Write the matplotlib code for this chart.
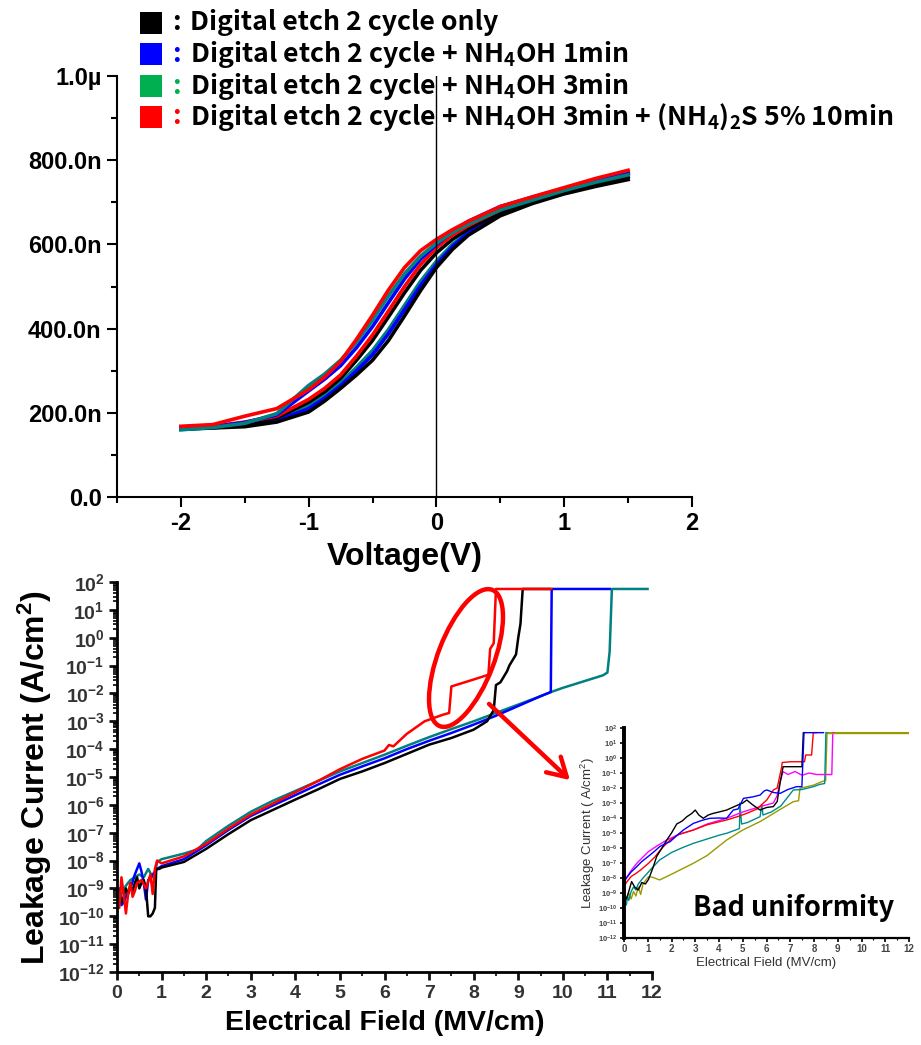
import numpy as np
import matplotlib
matplotlib.use("Agg")
import matplotlib.pyplot as plt
from matplotlib.patches import Rectangle, Ellipse, FancyArrowPatch
from matplotlib.ticker import MultipleLocator, LogLocator, NullFormatter, FuncFormatter

plt.rcParams["font.family"] = ["Liberation Sans", "DejaVu Sans"]
plt.rcParams["mathtext.fontset"] = "custom"
plt.rcParams["mathtext.rm"] = "Liberation Sans"
plt.rcParams["mathtext.bf"] = "Liberation Sans:bold"
plt.rcParams["axes.unicode_minus"] = False

LEG_FONT = ["Noto Sans CJK KR", "DejaVu Sans"]

# ---------------- top panel: C-V (two sweep branches per sample) ----------------
cv_v = [-2, -1.75, -1.5, -1.25, -1.0, -0.875, -0.75, -0.625, -0.5, -0.375,
        -0.25, -0.125, 0, 0.125, 0.25, 0.5, 0.75, 1.0, 1.25, 1.5]
# capacitance in nF
cv_black_a = [163, 166, 172, 188, 225, 250, 282, 325, 372, 428, 485, 538, 580, 612, 637, 675, 700, 722, 742, 760]
cv_black_b = [162, 164, 167, 178, 202, 228, 258, 290, 325, 372, 430, 490, 545, 588, 622, 668, 697, 720, 738, 754]
cv_blue_a = [163, 167, 177, 195, 252, 280, 312, 355, 405, 462, 518, 565, 600, 630, 655, 690, 712, 733, 752, 770]
cv_blue_b = [162, 165, 170, 182, 210, 235, 265, 300, 338, 388, 445, 502, 552, 595, 628, 675, 703, 728, 750, 768]
cv_teal_a = [160, 165, 175, 198, 265, 292, 325, 368, 420, 478, 530, 572, 603, 628, 648, 682, 705, 728, 748, 765]
cv_teal_b = [160, 164, 172, 188, 218, 242, 272, 308, 348, 398, 455, 512, 560, 600, 630, 672, 700, 724, 744, 762]
cv_red_a = [168, 172, 192, 210, 255, 285, 322, 375, 432, 492, 545, 585, 612, 635, 655, 690, 713, 735, 757, 776]
cv_red_b = [165, 168, 178, 192, 232, 258, 290, 335, 385, 442, 500, 552, 592, 622, 645, 682, 708, 730, 752, 772]

legend_labels = [
    "Digital etch 2 cycle only",
    r"Digital etch 2 cycle + $\mathregular{NH_4}$OH 1min",
    r"Digital etch 2 cycle + $\mathregular{NH_4}$OH 3min",
    r"Digital etch 2 cycle + $\mathregular{NH_4}$OH 3min + $\mathregular{(NH_4)_2S}$ 5% 10min",
]
legend_colors = ["#000000", "#0000ff", "#00b050", "#ff0000"]

# ---------------- bottom panel: J-E (log10 of A/cm2) ----------------
je_black_e = [0, 0.05, 0.1, 0.15, 0.2, 0.25, 0.3, 0.35, 0.4, 0.45, 0.5, 0.55, 0.6, 0.65, 0.7, 0.75,
              0.8, 0.85, 0.88, 0.95, 1.0, 1.5, 2.0, 2.5, 3.0, 3.5, 4.0, 4.5, 5.0, 5.5, 6.0, 6.5,
              7.0, 7.5, 8.0, 8.3, 8.45, 8.5, 8.6, 8.75, 8.8, 8.95, 9.0, 9.05, 9.1, 9.7]
je_black_j = [-9.3, -9.2, -9.5, -9.3, -9.0, -9.2, -8.9, -9.1, -8.8, -8.6, -9.0, -8.8, -8.7, -9.0, -10.0, -10.0,
              -9.9, -9.7, -8.3, -8.3, -8.25, -8.05, -7.58, -7.05, -6.55, -6.18, -5.81, -5.45, -5.07, -4.8, -4.5, -4.17,
              -3.84, -3.6, -3.3, -3.0, -2.6, -1.7, -1.6, -1.2, -1.0, -0.6, 0.0, 0.5, 1.75, 1.75]

je_blue_e = [0, 0.05, 0.1, 0.15, 0.2, 0.3, 0.4, 0.45, 0.5, 0.55, 0.6, 0.65, 0.7, 0.8, 0.9, 1.0,
             1.5, 2.0, 2.5, 3.0, 3.5, 4.0, 4.5, 5.0, 5.5, 6.0, 6.5, 7.0, 7.5, 8.0, 8.5, 9.0,
             9.5, 9.73, 9.75, 11.05]
je_blue_j = [-9.3, -9.0, -9.6, -9.5, -9.3, -9.0, -8.5, -8.3, -8.1, -8.4, -8.8, -9.4, -8.7, -8.5, -8.3, -8.2,
             -7.95, -7.45, -6.9, -6.4, -6.02, -5.65, -5.28, -4.92, -4.62, -4.33, -4.0, -3.7, -3.42, -3.12, -2.8, -2.45,
             -2.1, -1.95, 1.75, 1.75]

je_teal_e = [0, 0.05, 0.1, 0.2, 0.3, 0.4, 0.5, 0.6, 0.7, 0.8, 0.85, 0.9, 1.0, 1.5, 1.8, 2.0,
             2.5, 3.0, 3.5, 4.0, 4.5, 5.0, 5.5, 6.0, 6.5, 7.0, 7.5, 8.0, 8.5, 9.0, 9.5, 9.7,
             10.0, 10.5, 10.9, 11.0, 11.05, 11.1, 11.9]
je_teal_j = [-9.3, -9.4, -9.2, -8.9, -8.7, -8.6, -8.5, -8.6, -8.3, -8.6, -8.5, -8.05, -7.95, -7.75, -7.6, -7.3,
             -6.75, -6.25, -5.85, -5.5, -5.15, -4.8, -4.5, -4.2, -3.88, -3.57, -3.28, -3.0, -2.7, -2.4, -2.1, -1.97,
             -1.8, -1.55, -1.35, -1.25, -0.5, 1.75, 1.75]

je_red_e = [0, 0.05, 0.1, 0.15, 0.2, 0.25, 0.3, 0.35, 0.4, 0.45, 0.55, 0.65, 0.75, 0.8, 0.85, 0.9,
            1.0, 1.5, 2.0, 2.5, 3.0, 3.5, 4.0, 4.5, 5.0, 5.5, 6.0, 6.1, 6.2, 6.5, 6.9, 7.3,
            7.45, 7.5, 8.0, 8.33, 8.37, 8.45, 8.5, 9.74]
je_red_j = [-9.5, -9.7, -8.6, -9.2, -9.9, -9.2, -8.8, -9.3, -9.1, -8.8, -8.7, -9.0, -8.5, -9.2, -8.3, -8.0,
            -8.1, -7.85, -7.4, -6.85, -6.35, -5.95, -5.55, -5.15, -4.72, -4.35, -4.05, -3.85, -3.9, -3.45, -3.0, -2.77,
            -2.7, -1.75, -1.5, -1.33, -0.4, -0.2, 1.75, 1.75]

# ---------------- inset: six devices, same process ----------------
in_black_e = [0, 0.1, 0.2, 0.32, 0.45, 0.6, 0.75, 0.9, 1.03, 1.2, 1.38, 1.6, 1.8, 2.0, 2.22, 2.45,
              2.65, 2.85, 3.0, 3.15, 3.34, 3.55, 3.76, 4.0, 4.32, 4.7, 5.0, 5.17, 5.4, 5.73, 6.0, 6.29,
              6.45, 6.57, 6.7, 7.49, 7.55, 7.6]
in_black_j = [-9.0, -9.4, -8.9, -8.24, -8.6, -8.8, -8.3, -8.4, -8.1, -7.4, -6.55, -6.0, -5.47, -5.0, -4.4, -4.2,
              -3.91, -3.7, -3.47, -3.8, -4.02, -3.8, -3.69, -3.6, -3.47, -3.2, -3.0, -2.8, -3.1, -3.47, -3.3, -3.24,
              -2.9, -1.69, -0.58, -0.58, 1.69, 1.69]
in_blue_e = [0, 0.1, 0.3, 0.5, 0.75, 1.03, 1.3, 1.5, 1.75, 1.94, 2.2, 2.5, 2.92, 3.3, 3.62, 4.0,
             4.32, 4.6, 4.8, 5.03, 5.4, 5.73, 5.9, 6.01, 6.3, 6.57, 6.9, 7.27, 7.49, 7.58, 8.4]
in_blue_j = [-8.2, -8.0, -7.6, -7.3, -6.9, -6.55, -6.2, -5.91, -5.7, -5.58, -5.2, -4.8, -4.36, -4.15, -4.02, -4.0,
             -4.02, -3.47, -3.4, -2.69, -2.6, -2.47, -2.2, -2.13, -2.3, -2.36, -2.1, -1.91, -1.91, 1.69, 1.69]
in_red_e = [0, 0.1, 0.3, 0.5, 0.75, 1.03, 1.3, 1.6, 1.94, 2.3, 2.92, 3.5, 4.32, 4.8, 5.17, 5.6,
            6.01, 6.29, 6.45, 6.64, 6.66, 7.0, 7.6, 7.65, 7.9, 7.97, 8.1]
in_red_j = [-8.6, -8.3, -7.9, -7.7, -7.4, -7.02, -6.6, -6.0, -5.47, -5.1, -4.8, -4.45, -4.13, -3.9, -3.69, -3.4,
            -2.8, -2.13, -2.0, -0.58, -0.3, -0.25, -0.25, 0.2, 0.2, 1.69, 1.69]
in_mag_e = [0, 0.1, 0.3, 0.54, 0.8, 1.03, 1.4, 1.8, 2.3, 2.92, 3.5, 4.32, 5.0, 5.73, 6.29, 6.45,
            6.57, 6.7, 6.9, 7.2, 7.5, 7.8, 8.1, 8.4, 8.75, 8.79, 8.85]
in_mag_j = [-8.35, -8.0, -7.5, -7.02, -6.6, -6.24, -5.85, -5.47, -5.1, -4.8, -4.4, -4.02, -3.6, -3.24, -3.0, -2.5,
            -1.58, -0.91, -1.1, -0.9, -1.15, -1.0, -1.1, -1.1, -1.1, 1.69, 1.69]
in_teal_e = [0, 0.05, 0.1, 0.15, 0.2, 0.3, 0.4, 0.5, 0.6, 0.7, 0.8, 0.98, 1.2, 1.5, 2.0, 2.5,
             2.92, 3.5, 4.0, 4.32, 4.7, 4.86, 4.88, 4.95, 5.2, 5.73, 5.8, 5.85, 6.2, 6.6, 7.13, 7.5,
             8.0, 8.24, 8.45, 8.5, 8.55]
in_teal_j = [-9.0, -9.6, -9.8, -9.2, -9.5, -8.9, -8.6, -8.8, -8.4, -8.2, -8.0, -7.69, -7.3, -6.8, -6.3, -5.95,
             -5.69, -5.4, -5.15, -5.02, -4.8, -4.7, -3.0, -4.4, -4.3, -3.91, -3.1, -3.8, -3.6, -3.2, -2.13, -2.1,
             -1.9, -1.76, -1.7, 1.69, 1.69]
in_olive_e = [0, 0.05, 0.1, 0.2, 0.3, 0.4, 0.5, 0.6, 0.7, 0.8, 1.03, 1.2, 1.5, 2.0, 2.5, 2.92,
              3.5, 4.32, 5.0, 5.73, 6.5, 7.13, 7.35, 7.41, 8.0, 8.32, 8.49, 8.55, 11.97]
in_olive_j = [-9.0, -9.8, -9.5, -9.0, -9.4, -8.9, -9.2, -8.6, -9.1, -8.4, -7.91, -7.95, -8.13, -7.75, -7.35, -7.02,
              -6.5, -5.47, -4.8, -4.24, -3.5, -2.91, -2.85, -2.02, -1.8, -1.58, -1.5, 1.69, 1.69]

W, H = 921, 1045
fig = plt.figure(figsize=(W / 100, H / 100), dpi=100)


def fig_box(left, top, right, bottom):
    return [left / W, 1 - bottom / H, (right - left) / W, (bottom - top) / H]


# ---------------- top panel ----------------
ax1 = fig.add_axes(fig_box(117, 76, 692, 497))
for ys, c in [(cv_teal_b, "#008080"), (cv_blue_b, "#0000ff"), (cv_black_b, "#000000"),
              (cv_black_a, "#000000"), (cv_red_b, "#ff0000"), (cv_blue_a, "#0000ff"),
              (cv_teal_a, "#008080"), (cv_red_a, "#ff0000")]:
    ax1.plot(cv_v, np.array(ys) * 1e-9, color=c, lw=2.6, solid_joinstyle="round")
ax1.axvline(0, color="black", lw=1.0)
ax1.set_xlim(-2.5, 2)
ax1.set_ylim(0, 1.0e-6)
ax1.xaxis.set_major_locator(MultipleLocator(1))
ax1.xaxis.set_minor_locator(MultipleLocator(0.5))
ax1.yaxis.set_major_locator(MultipleLocator(200e-9))
ax1.yaxis.set_minor_locator(MultipleLocator(100e-9))


def cap_fmt(v, pos):
    if abs(v) < 1e-12:
        return "0.0"
    if v >= 0.999e-6:
        return "%.1f\u00b5" % (v * 1e6)
    return "%.1fn" % (v * 1e9)


ax1.yaxis.set_major_formatter(FuncFormatter(cap_fmt))
for s in ["top", "right"]:
    ax1.spines[s].set_visible(False)
for s in ["left", "bottom"]:
    ax1.spines[s].set_linewidth(1.5)
ax1.tick_params(which="major", direction="out", length=7, width=1.5, labelsize=17, pad=4)
ax1.tick_params(which="minor", direction="out", length=4, width=1.5)
for lab in ax1.get_xticklabels() + ax1.get_yticklabels():
    lab.set_fontweight("bold")
ax1.set_xlabel("Voltage(V)", fontsize=23, fontweight="bold", labelpad=5)

# legend drawn as figure text
rows_y = [23, 54, 86, 117]
for y, lab, c in zip(rows_y, legend_labels, legend_colors):
    fig.patches.append(Rectangle((140 / W, 1 - (y + 11) / H), 22 / W, 22 / H,
                                 transform=fig.transFigure, facecolor=c, edgecolor="none"))
    fig.text(172 / W, 1 - y / H, ":", color=c, fontsize=19, fontweight="bold",
             family=LEG_FONT, va="center", ha="left")
    fig.text(190 / W, 1 - y / H, lab, color="black", fontsize=19.2, fontweight="bold",
             family=LEG_FONT, va="center", ha="left")

# ---------------- bottom panel ----------------
ax2 = fig.add_axes(fig_box(117, 582, 652, 972))
for es, js, c in [(je_teal_e, je_teal_j, "#008080"), (je_blue_e, je_blue_j, "#0000ff"),
                  (je_black_e, je_black_j, "#000000"), (je_red_e, je_red_j, "#ff0000")]:
    ax2.plot(es, 10.0 ** np.array(js), color=c, lw=1.8)
ax2.set_yscale("log")
ax2.set_xlim(0, 12)
ax2.set_ylim(1e-12, 1e2)
ax2.xaxis.set_major_locator(MultipleLocator(1))
ax2.xaxis.set_minor_locator(MultipleLocator(0.5))
ax2.yaxis.set_major_locator(LogLocator(base=10, numticks=20))
ax2.yaxis.set_minor_locator(LogLocator(base=10, subs=np.arange(2, 10), numticks=20))
ax2.yaxis.set_minor_formatter(NullFormatter())
pow_fmt = FuncFormatter(lambda v, p: r"$\mathregular{10^{%d}}$" % int(round(np.log10(v))))
ax2.yaxis.set_major_formatter(pow_fmt)
for s in ["top", "right"]:
    ax2.spines[s].set_visible(False)
for s in ["left", "bottom"]:
    ax2.spines[s].set_linewidth(2)
ax2.tick_params(which="major", direction="out", length=6, width=2, labelsize=14, pad=3,
                colors="#111111", labelcolor="#333333")
ax2.tick_params(which="minor", direction="out", length=3, width=1.2)
for lab in ax2.get_xticklabels() + ax2.get_yticklabels():
    lab.set_fontweight("bold")
ax2.set_xlabel("Electrical Field (MV/cm)", fontsize=20.5, fontweight="bold", labelpad=6)
ax2.set_ylabel(r"Leakage Current (A/cm$\mathregular{^2}$)", fontsize=23, fontweight="bold", labelpad=3)

# red ellipse + arrow (figure pixel space)
px = fig.dpi_scale_trans
fig.patches.append(Ellipse((466 / 100, (H - 658) / 100), 0.56, 1.46, angle=-21,
                           transform=px, fill=False, edgecolor="#ff0000", lw=3.2))
fig.patches.append(FancyArrowPatch((487 / 100, (H - 702) / 100), (572 / 100, (H - 782) / 100),
                                   transform=px, arrowstyle="->,head_length=0.6,head_width=0.35",
                                   mutation_scale=22, color="#ff0000", lw=3.2))

# ---------------- inset ----------------
ax3 = fig.add_axes(fig_box(624, 728, 909, 938))
for es, js, c in [(in_olive_e, in_olive_j, "#999900"), (in_teal_e, in_teal_j, "#008b8b"),
                  (in_mag_e, in_mag_j, "#ff00ff"), (in_red_e, in_red_j, "#ff0000"),
                  (in_black_e, in_black_j, "#000000"), (in_blue_e, in_blue_j, "#0000ff")]:
    ax3.plot(es, 10.0 ** np.array(js), color=c, lw=1.0)
ax3.plot(in_olive_e[-2:], 10.0 ** np.array(in_olive_j[-2:]), color="#999900", lw=1.0)
ax3.set_yscale("log")
ax3.set_xlim(0, 12)
ax3.set_ylim(1e-12, 1e2)
ax3.xaxis.set_major_locator(MultipleLocator(1))
ax3.xaxis.set_minor_locator(MultipleLocator(0.5))
ax3.yaxis.set_major_locator(LogLocator(base=10, numticks=20))
ax3.yaxis.set_minor_locator(LogLocator(base=10, subs=np.arange(2, 10), numticks=20))
ax3.yaxis.set_minor_formatter(NullFormatter())
ax3.yaxis.set_major_formatter(pow_fmt)
for s in ["top", "right"]:
    ax3.spines[s].set_visible(False)
ax3.spines["left"].set_linewidth(2.8)
ax3.spines["bottom"].set_linewidth(1.6)
ax3.tick_params(which="major", direction="out", length=3, width=1.2, labelsize=5.5, pad=1.5,
                labelcolor="#444444")
ax3.tick_params(axis="x", which="major", labelsize=7)
ax3.tick_params(which="minor", direction="out", length=1.5, width=0.8)
for lab in ax3.get_xticklabels() + ax3.get_yticklabels():
    lab.set_fontweight("bold")
ax3.set_xlabel("Electrical Field (MV/cm)", fontsize=9.5, color="#333333", labelpad=2)
ax3.set_ylabel(r"Leakage Current ( A/cm$\mathregular{^2}$)", fontsize=9.5, color="#333333", labelpad=1)
ax3.text(0.595, 0.145, "Bad uniformity", transform=ax3.transAxes, fontsize=19.5, fontweight="bold",
         family=LEG_FONT, ha="center", va="center")

fig.savefig("out.png", dpi=100)
